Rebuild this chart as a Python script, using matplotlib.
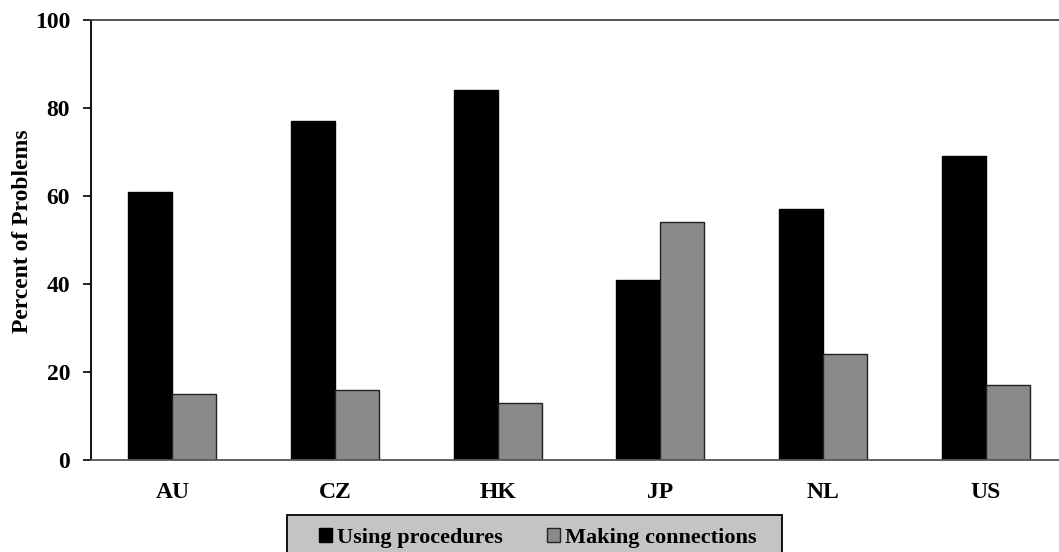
import numpy as np
import matplotlib
matplotlib.use('Agg')
import matplotlib.pyplot as plt
from matplotlib.patches import Rectangle

countries = ['AU', 'CZ', 'HK', 'JP', 'NL', 'US']
using_procedures = [61, 77, 84, 41, 57, 69]
making_connections = [15, 16, 13, 54, 24, 17]
yticks = [0, 20, 40, 60, 80, 100]

plt.rcParams['font.family'] = ['Liberation Serif', 'DejaVu Serif']
plt.rcParams['font.weight'] = 'bold'

W, H = 1059, 552
fig = plt.figure(figsize=(W / 100, H / 100), dpi=100)
ax = fig.add_axes([91 / W, 1 - 460 / H, 976 / W, 440 / H])

x = np.arange(len(countries))
w = 0.27
ax.bar(x - w/2, using_procedures, w, color='black', edgecolor='black',
       linewidth=1, label='Using procedures')
ax.bar(x + w/2, making_connections, w, color='#8a8a8a', edgecolor='#222222',
       linewidth=1, label='Making connections')

ax.set_xlim(-0.5, len(countries) - 0.5)
ax.set_ylim(0, 100)
ax.set_yticks(yticks)
ax.set_xticks(x)
ax.set_xticklabels(countries, fontsize=17, fontweight='bold')
ax.tick_params(axis='x', length=0, pad=16)
ax.tick_params(axis='y', direction='out', length=6, width=1.2, labelsize=17, pad=9)
for lbl in ax.get_yticklabels():
    lbl.set_fontweight('bold')
ax.set_ylabel('Percent of Problems', fontsize=17, fontweight='bold')
ax.yaxis.set_label_coords(-58 / 976, 0.52)

ax.spines['right'].set_visible(False)
for s in ['top', 'left', 'bottom']:
    ax.spines[s].set_linewidth(1.3)
ax.spines['top'].set_color('#444444')
ax.spines['bottom'].set_color('#555555')

# legend background box (runs off the bottom edge like the original)
fig.patches.append(Rectangle((287 / W, -0.02), 495 / W, 1 - 515 / H + 0.02,
                             transform=fig.transFigure, facecolor='#c4c4c4',
                             edgecolor='black', linewidth=1.3, zorder=0))

leg = fig.legend(loc='center', bbox_to_anchor=(538 / W, 1 - 538 / H), ncol=2,
                 frameon=False, prop={'size': 16, 'weight': 'bold'},
                 handlelength=0.55, handleheight=0.55, handletextpad=0.25,
                 columnspacing=2.0, borderpad=0.2)

fig.savefig('out.png', dpi=100)
